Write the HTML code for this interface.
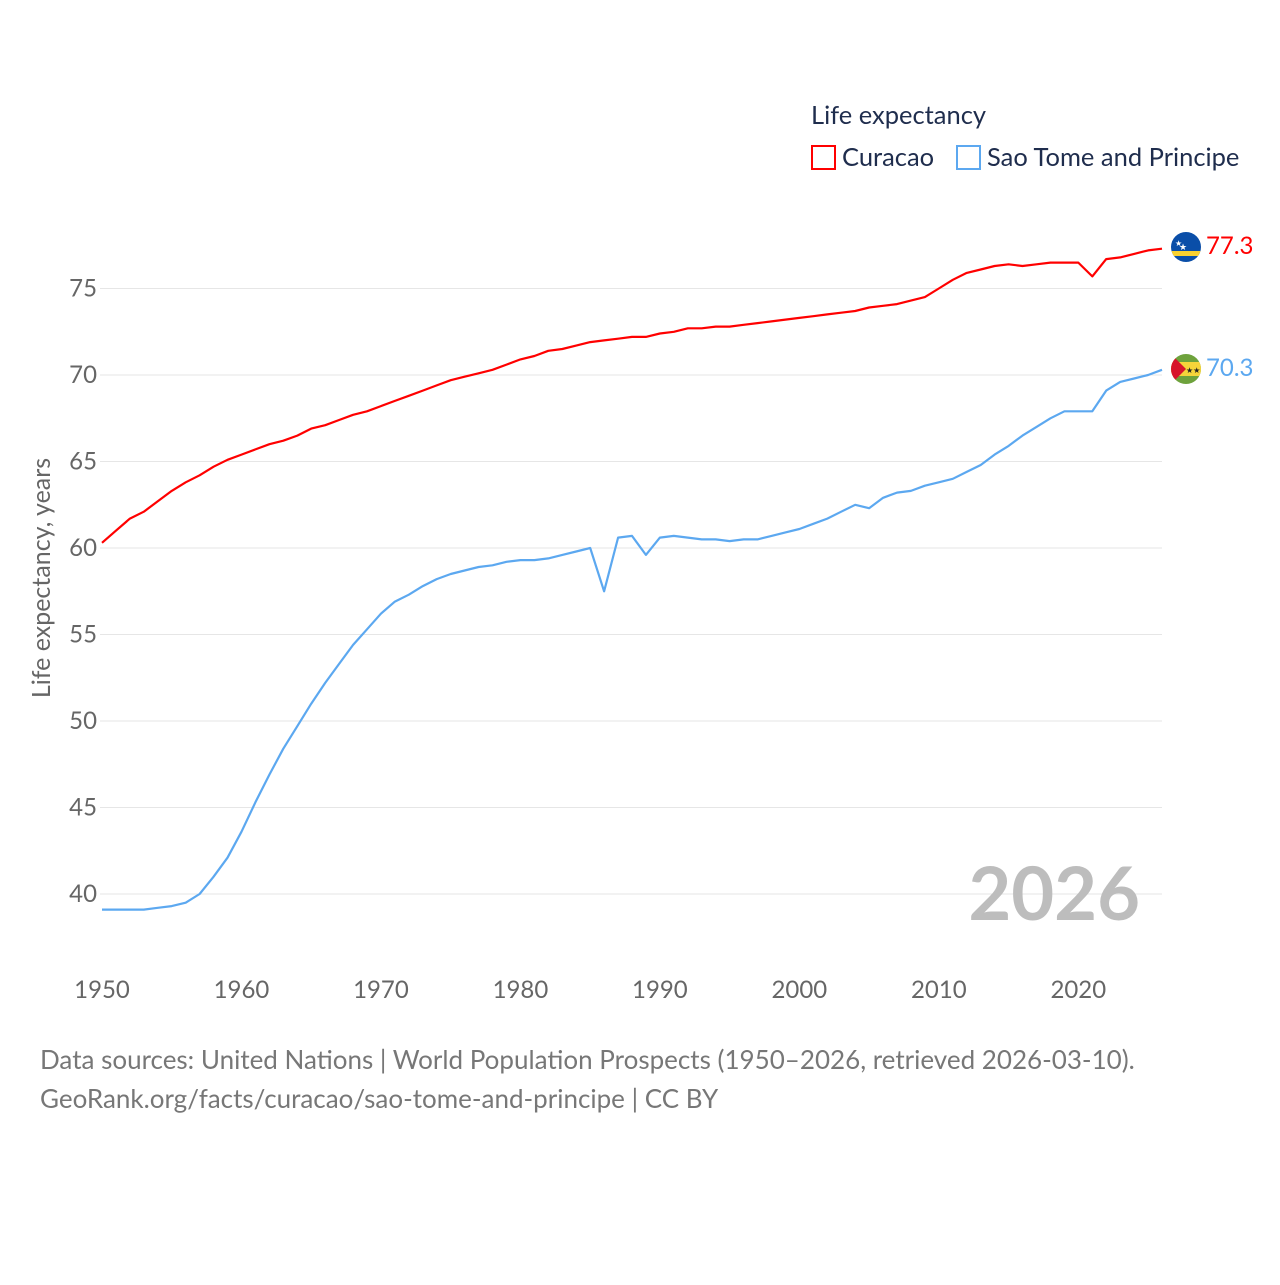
<!DOCTYPE html>
<html><head><meta charset="utf-8"><style>
html,body{margin:0;padding:0;background:#fff;}
svg text{font-family:"Lato","Liberation Sans",sans-serif;}
</style></head><body>
<svg width="1280" height="1280" viewBox="0 0 1280 1280" xmlns="http://www.w3.org/2000/svg">
<defs>
<clipPath id="c1"><circle cx="1186" cy="247" r="15"/></clipPath>
<clipPath id="c2"><circle cx="1186" cy="369" r="15"/></clipPath>
</defs>
<g id="grid"></g>
<g id="yticks"></g>
<g id="xticks"></g>
<text x="50" y="578" transform="rotate(-90 50 578)" text-anchor="middle" font-size="25" fill="#666">Life expectancy, years</text>
<g id="series"></g>
<text x="1140" y="920" text-anchor="end" font-size="74" font-weight="bold" fill="#bdbdbd">2026</text>
<text x="811" y="124" font-size="25.5" fill="#1f2d4d">Life expectancy</text>
<g>
<rect x="812" y="146" width="23" height="23" fill="none" stroke="#f00" stroke-width="2"/>
<text x="842" y="166" font-size="25.5" fill="#1f2d4d">Curacao</text></g>
<g>
<rect x="957" y="146" width="23" height="23" fill="none" stroke="#5ca8f0" stroke-width="2"/>
<text x="987" y="166" font-size="25.5" fill="#1f2d4d">Sao Tome and Principe</text></g>
<g clip-path="url(#c1)">
<rect x="1170" y="231" width="32" height="32" fill="#0a4ea8"/>
<rect x="1170" y="251" width="32" height="5" fill="#f9d130"/>
<text x="1175" y="246" font-size="8" fill="#fff">★</text>
<text x="1179" y="250" font-size="9" fill="#fff">★</text></g>
<g clip-path="url(#c2)">
<rect x="1170" y="353" width="32" height="32" fill="#6ea23c"/>
<rect x="1170" y="362" width="32" height="14" fill="#f5d43a"/>
<polygon points="1170,353 1186,369 1170,385" fill="#d7142b"/>
<text x="1186" y="373" font-size="8" fill="#222">★★</text></g>
<text x="1206" y="254" font-size="24" fill="#f00">77.3</text>
<text x="1206" y="376" font-size="24" fill="#5ca8f0">70.3</text>
<text x="40" y="1069" font-size="26" fill="#777">Data sources: United Nations | World Population Prospects (1950–2026, retrieved 2026-03-10).</text>
<text x="40" y="1108" font-size="26" fill="#777">GeoRank.org/facts/curacao/sao-tome-and-principe | CC BY</text>
</svg>
<script>
const years=[];for(let y=1950;y<=2026;y++)years.push(y);
const curacao=[60.3,61.0,61.7,62.1,62.7,63.3,63.8,64.2,64.7,65.1,65.4,65.7,66.0,66.2,66.5,66.9,67.1,67.4,67.7,67.9,68.2,68.5,68.8,69.1,69.4,69.7,69.9,70.1,70.3,70.6,70.9,71.1,71.4,71.5,71.7,71.9,72.0,72.1,72.2,72.2,72.4,72.5,72.7,72.7,72.8,72.8,72.9,73.0,73.1,73.2,73.3,73.4,73.5,73.6,73.7,73.9,74.0,74.1,74.3,74.5,75.0,75.5,75.9,76.1,76.3,76.4,76.3,76.4,76.5,76.5,76.5,75.7,76.7,76.8,77.0,77.2,77.3];
const saoTome=[39.1,39.1,39.1,39.1,39.2,39.3,39.5,40.0,41.0,42.1,43.6,45.3,46.9,48.4,49.7,51.0,52.2,53.3,54.4,55.3,56.2,56.9,57.3,57.8,58.2,58.5,58.7,58.9,59.0,59.2,59.3,59.3,59.4,59.6,59.8,60.0,57.5,60.6,60.7,59.6,60.6,60.7,60.6,60.5,60.5,60.4,60.5,60.5,60.7,60.9,61.1,61.4,61.7,62.1,62.5,62.3,62.9,63.2,63.3,63.6,63.8,64.0,64.4,64.8,65.4,65.9,66.5,67.0,67.5,67.9,67.9,67.9,69.1,69.6,69.8,70.0,70.3];
const yTicks=[40,45,50,55,60,65,70,75];
const xTicks=[1950,1960,1970,1980,1990,2000,2010,2020];
const NS='http://www.w3.org/2000/svg';
const x=v=>102+(v-1950)*(1162-102)/76;
const y=v=>548-(v-60)*17.3;
function mk(tag,attrs,parent){const e=document.createElementNS(NS,tag);for(const k in attrs)e.setAttribute(k,attrs[k]);parent.appendChild(e);return e;}
const grid=document.getElementById('grid'),yt=document.getElementById('yticks'),xt=document.getElementById('xticks'),ser=document.getElementById('series');
yTicks.forEach(t=>{
 const l=mk('line',{x1:100,x2:1162,y1:y(t),y2:y(t),stroke:'#e6e6e6','stroke-width':1},grid);
 
 
 const tx=mk('text',{x:97,y:y(t)+8,'text-anchor':'end','font-size':24,fill:'#666'},yt);
 tx.textContent=t;
 
 
});
xTicks.forEach(t=>{
 const tx=mk('text',{x:x(t),y:998,'text-anchor':'middle','font-size':24,fill:'#666'},xt);
 tx.textContent=t;
 
 
});
function line(data,color,name){
 const d=data.map((v,i)=>(i?'L':'M')+x(years[i]).toFixed(1)+','+y(v).toFixed(1)).join('');
 const p=mk('path',{d:d,fill:'none',stroke:color,'stroke-width':2.2,'stroke-linejoin':'round'},ser);
 
 
}
line(curacao,'#f00','line-curacao');
line(saoTome,'#5ca8f0','line-sao-tome');
</script>
</body></html>
